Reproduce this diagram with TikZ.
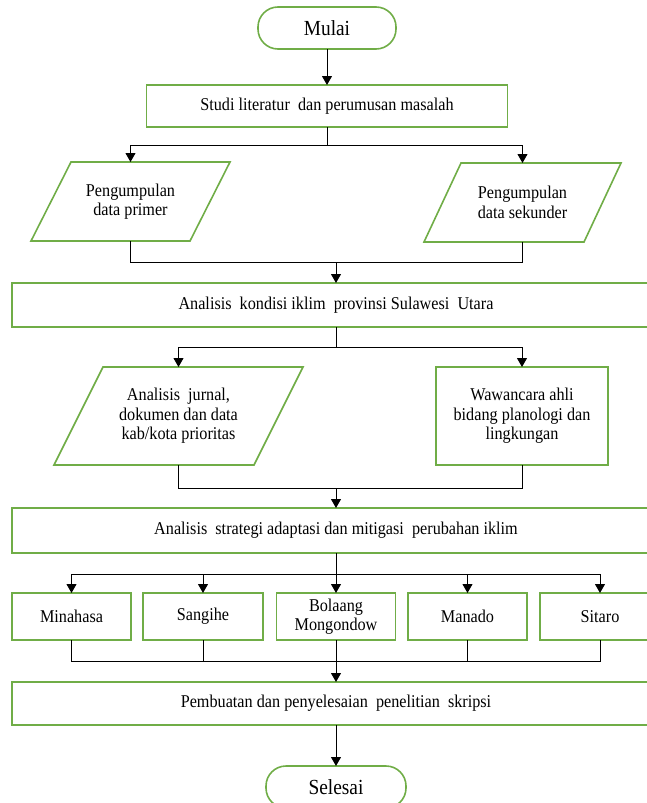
\documentclass[tikz,border=0pt]{standalone}
\usepackage{fontspec}
\setmainfont{Liberation Serif}[FakeStretch=0.9]
\usetikzlibrary{arrows.meta}
\definecolor{boxgreen}{HTML}{70AD47}
\begin{document}
\begin{tikzpicture}[x=1pt,y=-1pt,
  every node/.style={inner sep=0pt, outer sep=0pt},
  txt/.style={font=\fontsize{18}{19.5}\selectfont, align=center},
  gbox/.style={txt, draw=boxgreen, line width=1.6pt, rectangle},
  ghost/.style={txt, rectangle},
  pill/.style={draw=boxgreen, line width=1.6pt, rounded corners=20pt, rectangle, font=\fontsize{21.5}{24}\selectfont},
  gline/.style={draw=boxgreen, line width=1.6pt, line join=miter},
  conn/.style={draw=black, line width=0.9pt},
  arr/.style={conn, -{Triangle[length=9pt,width=10pt]}}
]
\useasboundingbox (0,0) rectangle (647,803);
\clip (0,0) rectangle (647,803);

% nodes
\node[pill, minimum width=138pt, minimum height=42pt] (mulai) at (327,28) {Mulai};
\node[gbox, minimum width=361pt, minimum height=42pt] (studi) at (327,106) {Studi literatur\ \ dan perumusan masalah};

\node[ghost, minimum width=199pt, minimum height=79pt] (p1) at (130.5,201.5) {Pengumpulan\\data primer};
\draw[gline] ([xshift=40pt]p1.north west) -- (p1.north east) -- ([xshift=-40pt]p1.south east) -- (p1.south west) -- cycle;
\node[ghost, minimum width=197pt, minimum height=79pt] (p2) at (522.5,202.5) {Pengumpulan\\data sekunder};
\draw[gline] ([xshift=37pt]p2.north west) -- (p2.north east) -- ([xshift=-37pt]p2.south east) -- (p2.south west) -- cycle;

\node[gbox, minimum width=648pt, minimum height=44pt] (kondisi) at (336,305) {Analisis\ \ kondisi iklim\ \ provinsi Sulawesi\ \ Utara};

\node[ghost, minimum width=249pt, minimum height=98pt] (jurnal) at (178.5,416) {Analisis\ \ jurnal,\\dokumen dan data\\kab/kota prioritas};
\draw[gline] ([xshift=49pt]jurnal.north west) -- (jurnal.north east) -- ([xshift=-49pt]jurnal.south east) -- (jurnal.south west) -- cycle;
\node[gbox, minimum width=172pt, minimum height=98pt] (wawan) at (522,416) {Wawancara ahli\\bidang planologi dan\\lingkungan};

\node[gbox, minimum width=648pt, minimum height=45pt] (strategi) at (336,530.5) {Analisis\ \ strategi adaptasi dan mitigasi\ \ perubahan iklim};

\node[gbox, minimum width=119pt, minimum height=47pt] (minahasa) at (71.5,616.5) {Minahasa};
\node[gbox, minimum width=120pt, minimum height=47pt] (sangihe) at (203,616.5) {Sangihe};
\node[gbox, minimum width=119pt, minimum height=47pt] (bolaang) at (336,616.5) {Bolaang\\Mongondow};
\node[gbox, minimum width=119pt, minimum height=47pt] (manado) at (467.5,616.5) {Manado};
\node[gbox, minimum width=120pt, minimum height=47pt] (sitaro) at (600,616.5) {Sitaro};

\node[gbox, minimum width=648pt, minimum height=43pt] (pembuatan) at (336,703.5) {Pembuatan dan penyelesaian\ \ penelitian\ \ skripsi};
\node[pill, minimum width=140pt, minimum height=42pt] (selesai) at (336,787) {Selesai};

% junction coordinates
\coordinate (j1) at (327,145);
\coordinate (j2) at (336,262);
\coordinate (j3) at (336,347);
\coordinate (j4) at (336,488);
\coordinate (j5) at (336,574);
\coordinate (j6) at (336,661);

% connectors
\draw[arr] (mulai.south) -- (studi.north);
\draw[arr] (studi.south) -- (j1) -| (p1.north);
\draw[arr] (studi.south) -- (j1) -| (p2.north);
\draw[conn] (p1.south) |- (j2);
\draw[conn] (p2.south) |- (j2);
\draw[arr] (j2) -- (kondisi.north);
\draw[arr] (kondisi.south) -- (j3) -| (jurnal.north);
\draw[arr] (kondisi.south) -- (j3) -| (wawan.north);
\draw[conn] (jurnal.south) |- (j4);
\draw[conn] (wawan.south) |- (j4);
\draw[arr] (j4) -- (strategi.north);
\draw[arr] (strategi.south) -- (j5) -| (minahasa.north);
\draw[arr] (strategi.south) -- (j5) -| (sangihe.north);
\draw[arr] (strategi.south) -- (bolaang.north);
\draw[arr] (strategi.south) -- (j5) -| (manado.north);
\draw[arr] (strategi.south) -- (j5) -| (sitaro.north);
\draw[conn] (minahasa.south) |- (j6);
\draw[conn] (sangihe.south) |- (j6);
\draw[conn] (manado.south) |- (j6);
\draw[conn] (sitaro.south) |- (j6);
\draw[conn] (bolaang.south) -- (j6);
\draw[arr] (j6) -- (pembuatan.north);
\draw[arr] (pembuatan.south) -- (selesai.north);
\end{tikzpicture}
\end{document}
